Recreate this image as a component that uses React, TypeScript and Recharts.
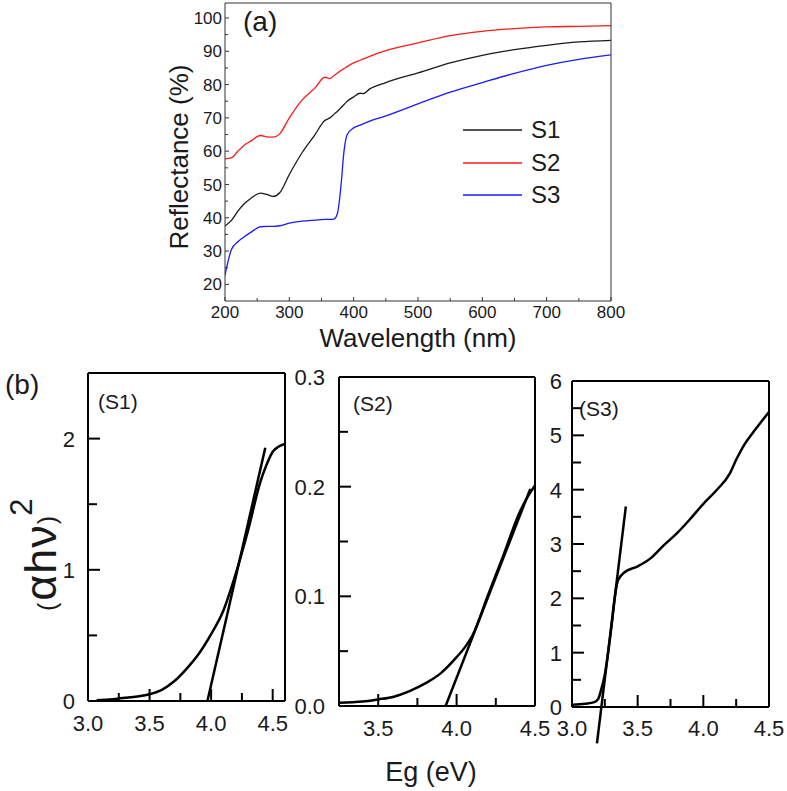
import React from 'react';
import { LineChart, Line, XAxis, YAxis, Legend, ReferenceLine } from 'recharts';

const FONT = '"Liberation Sans", Arial, Helvetica, sans-serif';

// ---- (a) reflectance spectra ----
const wavelength = [200, 210, 220, 230, 240, 255, 265, 275, 285, 300, 320, 340, 355, 363, 370, 375, 380, 385, 390, 400, 410, 415, 425, 450, 500, 550, 600, 650, 700, 750, 800];
const reflS1 = [37.5, 39.2, 42, 44.2, 45.8, 47.4, 47.0, 46.4, 47.5, 53, 59.6, 65, 69.2, 70, 71.2, 72, 73, 74, 75, 76.3, 77.4, 77.3, 78.7, 80.6, 83.5, 86.5, 88.8, 90.5, 91.8, 92.8, 93.3];
const reflS2 = [57.7, 58, 60, 61.8, 63, 64.7, 64.3, 64.2, 65.2, 70, 75.4, 79, 82.2, 81.8, 82.8, 83.5, 84.2, 84.8, 85.4, 86.5, 87.3, 87.7, 88.5, 90.2, 92.5, 94.7, 96.0, 96.8, 97.3, 97.5, 97.7];
const reflS3 = [22.7, 30.5, 32.8, 34.3, 35.6, 37.3, 37.4, 37.4, 37.6, 38.4, 39, 39.3, 39.5, 39.5, 39.7, 41.5, 49, 60, 65, 67, 67.8, 68.2, 69, 70.6, 74.2, 77.7, 80.6, 83.4, 85.8, 87.6, 88.9];
const wlMajor = [200, 300, 400, 500, 600, 700, 800];
const wlMinor = [250, 350, 450, 550, 650, 750];
const reflMajor = [20, 30, 40, 50, 60, 70, 80, 90, 100];
const reflMinor = [25, 35, 45, 55, 65, 75, 85, 95];

// ---- (b) Tauc plots ----
const egS1 = [3.07, 3.2, 3.3, 3.4, 3.5, 3.6, 3.7, 3.8, 3.9, 4.0, 4.1, 4.2, 4.3, 4.4, 4.45, 4.5, 4.55, 4.6];
const taucS1 = [0.005, 0.014, 0.024, 0.035, 0.052, 0.085, 0.15, 0.245, 0.36, 0.51, 0.69, 0.97, 1.3, 1.67, 1.8, 1.9, 1.94, 1.96];
const fitS1E = [3.97, 4.44];
const fitS1V = [0, 1.93];

const egS2 = [3.25, 3.4, 3.5, 3.6, 3.7, 3.8, 3.9, 4.0, 4.05, 4.1, 4.2, 4.3, 4.4, 4.45, 4.5];
const taucS2 = [0.003, 0.004, 0.006, 0.0085, 0.0136, 0.0206, 0.03, 0.0445, 0.053, 0.064, 0.101, 0.138, 0.176, 0.19, 0.201];
const fitS2E = [3.93, 4.47];
const fitS2V = [0, 0.198];

const egS3 = [3.0, 3.1, 3.17, 3.2, 3.22, 3.25, 3.3, 3.33, 3.35, 3.4, 3.5, 3.6, 3.7, 3.8, 3.9, 4.0, 4.1, 4.2, 4.25, 4.3, 4.4, 4.5];
const taucS3 = [0.04, 0.06, 0.09, 0.15, 0.3, 0.6, 1.47, 2.09, 2.33, 2.48, 2.59, 2.74, 2.98, 3.2, 3.46, 3.74, 3.99, 4.29, 4.55, 4.78, 5.12, 5.43];
const fitS3E = [3.19, 3.41];
const fitS3V = [-0.67, 3.69];

type TickOpts = {
  major: number[];
  fmt: (v: number) => string;
  len: number;
  minorLen: number;
  gap: number;
  size: number;
  stroke: string;
  sw: number;
};

const isIn = (arr: number[], v: number) => arr.some((m) => Math.abs(m - v) < 1e-6);

// ticks point inward, minor ticks shorter and unlabeled
const bottomTick = (o: TickOpts) => (p: any) => {
  const v = p.payload.value;
  const major = isIn(o.major, v);
  const x = Number(p.x);
  const y = Number(p.y);
  const len = major ? o.len : o.minorLen;
  return (
    <g>
      <path d={`M${x},${y}L${x},${y - len}`} stroke={o.stroke} strokeWidth={o.sw} fill="none" />
      {major && (
        <text x={x} y={y + o.gap} dy="0.71em" textAnchor="middle" fontSize={o.size} fontFamily={FONT} fill="#1a1a1a">
          {o.fmt(v)}
        </text>
      )}
    </g>
  );
};

const leftTick = (o: TickOpts) => (p: any) => {
  const v = p.payload.value;
  const major = isIn(o.major, v);
  const x = Number(p.x);
  const y = Number(p.y);
  const len = major ? o.len : o.minorLen;
  return (
    <g>
      <path d={`M${x},${y}L${x + len},${y}`} stroke={o.stroke} strokeWidth={o.sw} fill="none" />
      {major && (
        <text x={x - o.gap} y={y} dy="0.36em" textAnchor="end" fontSize={o.size} fontFamily={FONT} fill="#1a1a1a">
          {o.fmt(v)}
        </text>
      )}
    </g>
  );
};

const LegendBox = (props: any) => {
  const items = props.payload || [];
  return (
    <div style={{ fontFamily: FONT }}>
      {items.map((it: any) => (
        <div key={it.value} style={{ display: 'flex', alignItems: 'center', height: 32.5 }}>
          <svg width={60} height={4}>
            <line x1={0} x2={59} y1={2} y2={2} stroke={it.color} strokeWidth={1.3} />
          </svg>
          <span style={{ marginLeft: 8, fontSize: 24, lineHeight: '24px', color: '#1a1a1a' }}>{it.value}</span>
        </div>
      ))}
    </div>
  );
};

const AX_A = '#333';

// axes are 1px thick boxes, so margins are shifted by 1 to keep the plot frame in place
const ReflectancePanel = () => {
  const data = wavelength.map((w, i) => ({ w, s1: reflS1[i], s2: reflS2[i], s3: reflS3[i] }));
  const xT = { major: wlMajor, fmt: (v: number) => String(v), len: 4, minorLen: 3, gap: 5, size: 17, stroke: AX_A, sw: 1 };
  const yT = { major: reflMajor, fmt: (v: number) => String(v), len: 4, minorLen: 3, gap: 3, size: 17, stroke: AX_A, sw: 1 };
  return (
    <div style={{ position: 'absolute', left: 0, top: 0 }}>
      <LineChart width={787} height={360} data={data} margin={{ top: 2, right: 175, bottom: 58, left: 224 }}>
        <XAxis
          dataKey="w"
          type="number"
          domain={[200, 800]}
          ticks={[...wlMajor, ...wlMinor]}
          interval={0}
          height={1}
          tickSize={0}
          tickMargin={0}
          tickLine={false}
          allowDataOverflow
          axisLine={{ stroke: AX_A, strokeWidth: 1 }}
          tick={bottomTick(xT)}
          label={{
            content: (p: any) => (
              <text x={p.viewBox.x + p.viewBox.width / 2} y={p.viewBox.y + 46} textAnchor="middle" fontSize={26} fontFamily={FONT} fill="#1a1a1a">
                Wavelength (nm)
              </text>
            ),
          }}
        />
        <XAxis xAxisId="top" orientation="top" type="number" domain={[200, 800]} height={1} tick={false} tickLine={false} allowDataOverflow axisLine={{ stroke: AX_A, strokeWidth: 1 }} />
        <YAxis
          type="number"
          domain={[15, 104.5]}
          ticks={[...reflMajor, ...reflMinor]}
          interval={0}
          width={1}
          tickSize={0}
          tickMargin={0}
          tickLine={false}
          allowDataOverflow
          axisLine={{ stroke: AX_A, strokeWidth: 1 }}
          tick={leftTick(yT)}
          label={{
            content: (p: any) => {
              const x = p.viewBox.x - 36;
              const y = p.viewBox.y + p.viewBox.height / 2 + 5;
              return (
                <text x={x} y={y} transform={`rotate(-90, ${x}, ${y})`} textAnchor="middle" fontSize={26} fontFamily={FONT} fill="#1a1a1a">
                  Reflectance (%)
                </text>
              );
            },
          }}
        />
        <YAxis yAxisId="right" orientation="right" type="number" domain={[15, 104.5]} width={1} tick={false} tickLine={false} allowDataOverflow axisLine={{ stroke: AX_A, strokeWidth: 1 }} />
        <Legend layout="vertical" align="center" verticalAlign="middle" content={LegendBox} wrapperStyle={{ left: 463, top: 114, width: 120, height: 100 }} />
        <Line type="monotone" dataKey="s1" name="S1" stroke="#1a1a1a" strokeWidth={1.3} dot={false} isAnimationActive={false} />
        <Line type="monotone" dataKey="s2" name="S2" stroke="#ff1a1a" strokeWidth={1.3} dot={false} isAnimationActive={false} />
        <Line type="monotone" dataKey="s3" name="S3" stroke="#1a1aff" strokeWidth={1.3} dot={false} isAnimationActive={false} />
      </LineChart>
    </div>
  );
};

type TaucProps = {
  left: number;
  width: number;
  margin: { top: number; right: number; bottom: number; left: number };
  energy: number[];
  tauc: number[];
  fitE: number[];
  fitV: number[];
  xDomain: [number, number];
  yDomain: [number, number];
  xMajor: number[];
  xMinor: number[];
  yMajor: number[];
  yMinor: number[];
  yFmt: (v: number) => string;
  xGap: number;
  yGap: number;
  xTitle?: string;
  yTitle?: boolean;
};

const TaucPanel = (props: TaucProps) => {
  const data = props.energy.map((e, i) => ({ e, v: props.tauc[i] }));
  const xT = { major: props.xMajor, fmt: (v: number) => v.toFixed(1), len: 12, minorLen: 8, gap: props.xGap, size: 22, stroke: '#000', sw: 2 };
  const yT = { major: props.yMajor, fmt: props.yFmt, len: 12, minorLen: 9, gap: props.yGap, size: 22, stroke: '#000', sw: 2 };
  const axis = { stroke: '#000', strokeWidth: 2 };
  const m = props.margin;
  return (
    <div style={{ position: 'absolute', left: props.left, top: 355 }}>
      <LineChart
        width={props.width}
        height={436}
        data={data}
        margin={{ top: m.top - 1, right: m.right - 1, bottom: m.bottom - 1, left: m.left - 1 }}
      >
        <XAxis
          dataKey="e"
          type="number"
          domain={props.xDomain}
          ticks={[...props.xMajor, ...props.xMinor]}
          interval={0}
          height={1}
          tickSize={0}
          tickMargin={0}
          tickLine={false}
          allowDataOverflow
          axisLine={axis}
          tick={bottomTick(xT)}
          label={
            props.xTitle
              ? {
                  content: (p: any) => (
                    <text x={p.viewBox.x + p.viewBox.width / 2 - 6} y={p.viewBox.y + 75} textAnchor="middle" fontSize={27} fontFamily={FONT} fill="#1a1a1a">
                      {props.xTitle}
                    </text>
                  ),
                }
              : undefined
          }
        />
        <XAxis xAxisId="top" orientation="top" type="number" domain={props.xDomain} height={1} tick={false} tickLine={false} allowDataOverflow axisLine={axis} />
        <YAxis
          type="number"
          domain={props.yDomain}
          ticks={[...props.yMajor, ...props.yMinor]}
          interval={0}
          width={1}
          tickSize={0}
          tickMargin={0}
          tickLine={false}
          allowDataOverflow
          axisLine={axis}
          tick={leftTick(yT)}
          label={
            props.yTitle
              ? {
                  content: (p: any) => {
                    const x = p.viewBox.x - 31;
                    const y = p.viewBox.y + 238;
                    return (
                      <text x={x} y={y} transform={`rotate(-90, ${x}, ${y})`} textAnchor="start" fontFamily={FONT} fill="#1a1a1a">
                        <tspan fontSize={25}>(</tspan>
                        <tspan fontSize={45} dx={2} letterSpacing={1}>αhν</tspan>
                        <tspan fontSize={25}>)</tspan>
                        <tspan fontSize={31} dy={-24}>2</tspan>
                      </text>
                    );
                  },
                }
              : undefined
          }
        />
        <YAxis yAxisId="right" orientation="right" type="number" domain={props.yDomain} width={1} tick={false} tickLine={false} allowDataOverflow axisLine={axis} />
        <Line type="monotone" dataKey="v" stroke="#000" strokeWidth={2.5} dot={false} isAnimationActive={false} />
        <ReferenceLine
          segment={[
            { x: props.fitE[0], y: props.fitV[0] },
            { x: props.fitE[1], y: props.fitV[1] },
          ]}
          ifOverflow="visible"
          stroke="#000"
          strokeWidth={2.5}
        />
      </LineChart>
    </div>
  );
};

const Labels = () => (
  <svg width={787} height={791} style={{ position: 'absolute', left: 0, top: 0, pointerEvents: 'none' }} fontFamily={FONT} fill="#1a1a1a">
    <text x={243} y={31} fontSize={28}>(a)</text>
    <text x={5} y={394} fontSize={28}>(b)</text>
    <text x={98} y={409} fontSize={21}>(S1)</text>
    <text x={353} y={411} fontSize={21}>(S2)</text>
    <text x={579} y={416} fontSize={21}>(S3)</text>
  </svg>
);

export default function App() {
  return (
    <div style={{ position: 'absolute', left: 0, top: 0, width: 787, height: 791, background: '#fff', fontFamily: FONT }}>
      <ReflectancePanel />
      <TaucPanel
        left={0}
        width={300}
        margin={{ top: 18, right: 15, bottom: 90, left: 88 }}
        energy={egS1}
        tauc={taucS1}
        fitE={fitS1E}
        fitV={fitS1V}
        xDomain={[3.0, 4.6]}
        yDomain={[0, 2.5]}
        xMajor={[3.0, 3.5, 4.0, 4.5]}
        xMinor={[3.25, 3.75, 4.25]}
        yMajor={[0, 1, 2]}
        yMinor={[0.5, 1.5]}
        yFmt={(v) => String(v)}
        xGap={14}
        yGap={13}
        yTitle
      />
      <TaucPanel
        left={280}
        width={270}
        margin={{ top: 22, right: 15, bottom: 85, left: 59 }}
        energy={egS2}
        tauc={taucS2}
        fitE={fitS2E}
        fitV={fitS2V}
        xDomain={[3.25, 4.5]}
        yDomain={[0, 0.3]}
        xMajor={[3.5, 4.0, 4.5]}
        xMinor={[3.75, 4.25]}
        yMajor={[0, 0.1, 0.2, 0.3]}
        yMinor={[0.05, 0.15, 0.25]}
        yFmt={(v) => v.toFixed(1)}
        xGap={14}
        yGap={14}
        xTitle="Eg (eV)"
      />
      <TaucPanel
        left={520}
        width={267}
        margin={{ top: 26, right: 18, bottom: 84, left: 52 }}
        energy={egS3}
        tauc={taucS3}
        fitE={fitS3E}
        fitV={fitS3V}
        xDomain={[3.0, 4.5]}
        yDomain={[0, 6]}
        xMajor={[3.0, 3.5, 4.0, 4.5]}
        xMinor={[3.25, 3.75, 4.25]}
        yMajor={[0, 1, 2, 3, 4, 5, 6]}
        yMinor={[0.5, 1.5, 2.5, 3.5, 4.5, 5.5]}
        yFmt={(v) => String(v)}
        xGap={13}
        yGap={10}
      />
      <Labels />
    </div>
  );
}
